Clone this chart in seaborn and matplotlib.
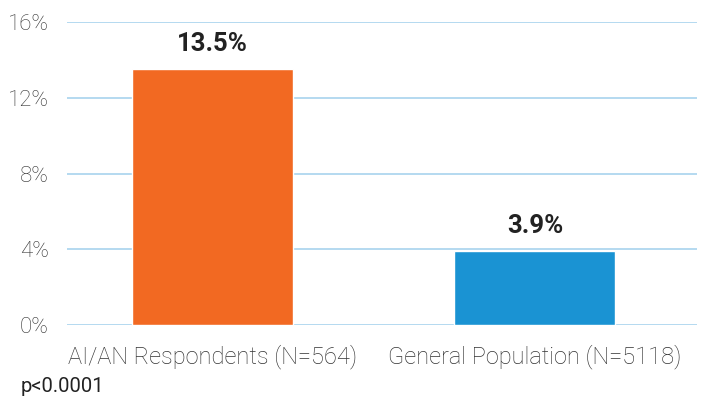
import matplotlib
matplotlib.use("Agg")
import matplotlib.pyplot as plt
import pandas as pd
import seaborn as sns

# values
groups = ["AI/AN Respondents (N=564)", "General Population (N=5118)"]
pct = [13.5, 3.9]
bar_colors = ["#F26922", "#1A93D3"]
y_ticks = [0, 4, 8, 12, 16]

sns.set_theme(style="white")
plt.rcParams["font.family"] = ["Roboto", "DejaVu Sans"]
plt.rcParams["font.weight"] = "light"

df = pd.DataFrame({"group": groups, "pct": pct})

fig = plt.figure(figsize=(7.04, 4.05), dpi=100)
ax = fig.add_axes([0.095, 0.1975, 0.895, 0.748])

sns.barplot(data=df, x="group", y="pct", hue="group", palette=bar_colors,
            width=0.5, legend=False, saturation=1, ax=ax, zorder=3)

ax.set_ylim(0, 16)
ax.set_xlim(-0.453, 1.503)
ax.set_yticks(y_ticks)
ax.set_yticklabels([f"{t}%" for t in y_ticks])
ax.yaxis.grid(True, color="#A8D3EE", linewidth=1.2, zorder=0)
ax.set_axisbelow(True)
for s in ax.spines.values():
    s.set_visible(False)
ax.tick_params(axis="y", length=0, pad=13, labelsize=16, labelcolor="#333333")
ax.tick_params(axis="x", length=0, pad=14, labelsize=17, labelcolor="#333333")
ax.set_xlabel("")
ax.set_ylabel("")

for i, v in enumerate(pct):
    ax.text(i, v + 0.7, f"{v}%", ha="center", va="bottom",
            fontsize=18.5, fontweight="bold", color="#222222")

fig.text(0.03, 0.045, "p<0.0001", fontsize=14.5, fontweight="normal",
         color="#222222", ha="left", va="center")

fig.savefig("out.png", dpi=100)
